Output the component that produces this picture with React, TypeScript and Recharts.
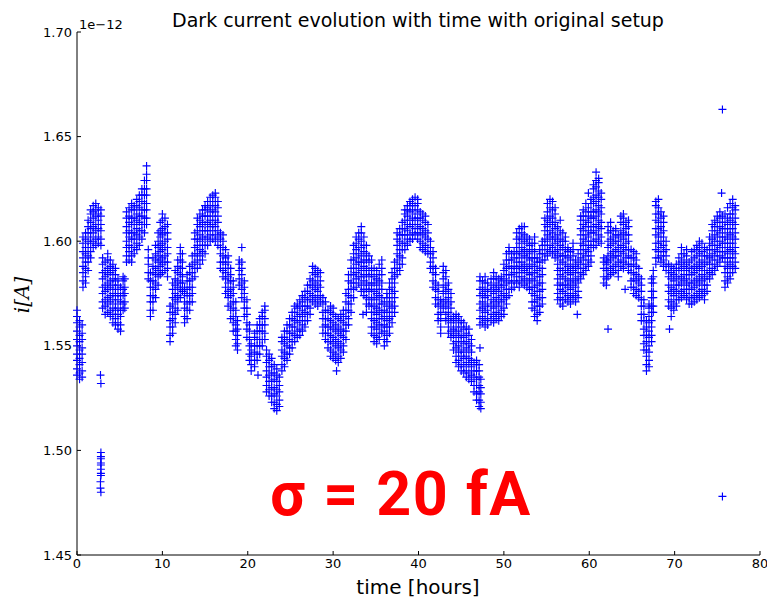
import { ScatterChart, Scatter, XAxis, YAxis } from 'recharts';

// rows: [time in hours, readings in fA ...]
const run0to10 = [
  [0.0, 1536, 1539, 1543, 1546, 1550, 1553, 1557, 1561, 1564, 1567],
  [0.3, 1534, 1537, 1541, 1544, 1548, 1552, 1555, 1559, 1562],
  [0.6, 1535, 1538, 1542, 1546, 1549, 1553, 1556, 1560],
  [0.7, 1578, 1581, 1585, 1588, 1592, 1595, 1599, 1602],
  [1.0, 1580, 1583, 1587, 1590, 1594, 1597, 1601, 1604],
  [1.3, 1586, 1590, 1593, 1597, 1600, 1604, 1607, 1610],
  [1.6, 1592, 1595, 1599, 1602, 1606, 1609, 1613, 1615],
  [1.9, 1597, 1600, 1604, 1607, 1611, 1614, 1617],
  [2.2, 1598, 1601, 1605, 1608, 1612, 1615, 1618],
  [2.5, 1599, 1602, 1606, 1610, 1613, 1616],
  [2.8, 1598, 1601, 1605, 1608, 1612, 1615],
  [3.0, 1568, 1571, 1575, 1578, 1582, 1585, 1589, 1592],
  [3.3, 1565, 1569, 1572, 1576, 1579, 1583, 1586, 1590],
  [3.6, 1566, 1570, 1573, 1577, 1580, 1584, 1587, 1591, 1594],
  [3.9, 1564, 1567, 1571, 1574, 1578, 1581, 1585, 1588, 1591],
  [4.2, 1561, 1565, 1568, 1572, 1575, 1579, 1582, 1586, 1589],
  [4.5, 1560, 1563, 1567, 1570, 1574, 1577, 1581, 1584, 1587],
  [4.8, 1558, 1561, 1565, 1568, 1572, 1575, 1579, 1582],
  [5.1, 1557, 1560, 1564, 1567, 1571, 1574, 1578],
  [5.4, 1567, 1570, 1574, 1577, 1581, 1583],
  [5.6, 1568, 1571, 1575, 1578, 1582],
  [5.8, 1590, 1593, 1597, 1600, 1604, 1607, 1611, 1614],
  [6.1, 1591, 1595, 1598, 1602, 1605, 1609, 1612, 1616],
  [6.4, 1590, 1593, 1597, 1601, 1604, 1608, 1611, 1615, 1618],
  [6.7, 1594, 1597, 1601, 1604, 1608, 1611, 1615, 1617],
  [7.0, 1596, 1599, 1603, 1606, 1610, 1613, 1617, 1620],
  [7.3, 1598, 1602, 1605, 1609, 1612, 1616, 1619, 1622],
  [7.6, 1601, 1605, 1608, 1612, 1615, 1619, 1622, 1625],
  [7.9, 1604, 1608, 1611, 1615, 1618, 1622, 1625, 1629],
  [8.15, 1608, 1611, 1615, 1618, 1622, 1625, 1629, 1632, 1636],
  [8.35, 1582, 1585, 1589, 1592, 1596],
  [8.6, 1564, 1567, 1571, 1574, 1578, 1581, 1585],
  [8.9, 1567, 1571, 1574, 1578, 1581, 1585, 1588, 1592],
  [9.2, 1573, 1577, 1580, 1584, 1587, 1591, 1594, 1598],
  [9.5, 1579, 1583, 1586, 1590, 1593, 1597, 1600, 1604],
  [9.75, 1584, 1588, 1591, 1595, 1598, 1602, 1605, 1609],
  [10.0, 1585, 1589, 1592, 1596, 1599, 1603, 1606, 1610, 1613],
  [10.3, 1586, 1590, 1593, 1597, 1600, 1604, 1607, 1611],
  [10.6, 1583, 1587, 1590, 1594, 1597, 1601, 1604, 1608],
];

const run10to20 = [
  [10.9, 1552, 1555, 1559, 1562, 1566, 1569],
  [11.2, 1556, 1559, 1563, 1566, 1570, 1573, 1577, 1580],
  [11.5, 1561, 1565, 1568, 1572, 1575, 1579, 1582, 1586],
  [11.8, 1567, 1571, 1574, 1578, 1581, 1585, 1588, 1591],
  [12.1, 1573, 1577, 1580, 1584, 1587, 1591, 1594, 1597],
  [12.35, 1576, 1580, 1583, 1587, 1590, 1594],
  [12.6, 1561, 1564, 1568, 1571, 1575, 1578],
  [12.9, 1563, 1567, 1570, 1574, 1577, 1581, 1584],
  [13.2, 1567, 1571, 1574, 1578, 1581, 1585, 1588],
  [13.5, 1571, 1575, 1578, 1582, 1585, 1589, 1593],
  [13.8, 1583, 1587, 1590, 1594, 1597, 1601, 1604],
  [14.1, 1587, 1591, 1594, 1598, 1601, 1605, 1608, 1611],
  [14.4, 1589, 1593, 1596, 1600, 1603, 1607, 1610, 1613],
  [14.7, 1591, 1595, 1598, 1602, 1605, 1609, 1612, 1615],
  [15.0, 1594, 1598, 1601, 1605, 1608, 1612, 1615, 1617],
  [15.3, 1598, 1602, 1605, 1609, 1612, 1616, 1619],
  [15.6, 1600, 1603, 1607, 1610, 1614, 1617, 1621],
  [15.9, 1601, 1605, 1608, 1612, 1615, 1619, 1622],
  [16.2, 1600, 1603, 1607, 1610, 1614, 1617, 1621, 1623],
  [16.5, 1598, 1602, 1605, 1609, 1612, 1616, 1619],
  [16.8, 1587, 1590, 1594, 1597, 1601, 1604],
  [17.1, 1583, 1586, 1590, 1593, 1597, 1600, 1603],
  [17.4, 1575, 1578, 1582, 1585, 1589, 1592, 1596],
  [17.7, 1569, 1573, 1576, 1580, 1583, 1587, 1590, 1593],
  [18.0, 1563, 1567, 1570, 1574, 1577, 1581, 1584, 1587],
  [18.3, 1557, 1561, 1564, 1568, 1571, 1575, 1578, 1581],
  [18.6, 1550, 1553, 1557, 1560, 1564, 1567, 1571],
  [18.8, 1548, 1551, 1555, 1558, 1562],
  [19.0, 1579, 1582, 1586, 1589, 1591],
  [19.3, 1573, 1577, 1580, 1584, 1587, 1590],
  [19.6, 1564, 1568, 1571, 1575, 1578, 1581],
  [19.9, 1554, 1558, 1561, 1565, 1568, 1572],
  [20.2, 1543, 1546, 1550, 1553, 1557, 1560],
  [20.4, 1538, 1541, 1545, 1548, 1551],
];

const run20to30 = [
  [20.8, 1540, 1543, 1547, 1550, 1554, 1556],
  [21.1, 1543, 1546, 1550, 1553, 1557, 1560],
  [21.4, 1546, 1550, 1553, 1557, 1560, 1563],
  [21.7, 1550, 1553, 1557, 1560, 1564, 1566],
  [22.0, 1553, 1556, 1560, 1563, 1567, 1569],
  [22.2, 1528, 1531, 1535, 1538, 1542, 1545, 1548],
  [22.5, 1526, 1529, 1533, 1536, 1540, 1543, 1546],
  [22.8, 1523, 1526, 1530, 1533, 1537, 1540, 1544],
  [23.1, 1520, 1523, 1527, 1530, 1534, 1537, 1541],
  [23.4, 1519, 1522, 1526, 1529, 1533, 1536, 1539],
  [23.7, 1521, 1524, 1528, 1531, 1535],
  [24.0, 1538, 1541, 1545, 1548, 1552, 1554],
  [24.3, 1540, 1544, 1547, 1551, 1554, 1557],
  [24.6, 1543, 1546, 1550, 1553, 1557, 1560],
  [24.9, 1546, 1549, 1553, 1556, 1560, 1563],
  [25.2, 1549, 1552, 1556, 1559, 1563, 1566],
  [25.5, 1552, 1555, 1559, 1562, 1566, 1569],
  [25.8, 1554, 1557, 1561, 1564, 1568, 1570],
  [26.1, 1555, 1558, 1562, 1565, 1569, 1572],
  [26.4, 1557, 1560, 1564, 1567, 1571, 1574],
  [26.7, 1559, 1562, 1566, 1569, 1573, 1576],
  [27.0, 1562, 1565, 1569, 1572, 1576, 1579],
  [27.3, 1565, 1568, 1572, 1575, 1579, 1582],
  [27.6, 1571, 1574, 1578, 1581, 1585, 1588],
  [27.9, 1570, 1573, 1577, 1580, 1584, 1587],
  [28.2, 1569, 1572, 1576, 1579, 1583, 1586],
  [28.5, 1571, 1574, 1578, 1581, 1585],
  [28.8, 1556, 1559, 1563, 1566, 1570, 1573],
  [29.1, 1553, 1556, 1560, 1563, 1567, 1571],
  [29.4, 1549, 1552, 1556, 1559, 1563, 1567],
  [29.7, 1545, 1548, 1552, 1555, 1559, 1562, 1566, 1569],
];

const run30to40 = [
  [30.0, 1544, 1547, 1551, 1554, 1558, 1561, 1565, 1568],
  [30.3, 1543, 1546, 1550, 1553, 1557, 1560, 1564],
  [30.6, 1542, 1545, 1549, 1552, 1556, 1559, 1563],
  [30.9, 1544, 1548, 1551, 1555, 1558, 1562, 1565],
  [31.2, 1547, 1550, 1554, 1557, 1561, 1564, 1567],
  [31.5, 1553, 1557, 1560, 1564, 1567, 1571, 1575],
  [31.8, 1560, 1563, 1567, 1570, 1574, 1577, 1581, 1584],
  [32.1, 1566, 1570, 1573, 1577, 1580, 1584, 1587, 1591],
  [32.4, 1573, 1577, 1580, 1584, 1587, 1591, 1594, 1598],
  [32.7, 1578, 1582, 1585, 1589, 1592, 1596, 1599, 1602],
  [33.0, 1580, 1583, 1587, 1590, 1594, 1597, 1601, 1604],
  [33.3, 1576, 1579, 1583, 1586, 1590, 1593, 1597, 1600, 1604, 1607],
  [33.6, 1574, 1577, 1581, 1584, 1588, 1591, 1595, 1598, 1602],
  [33.9, 1570, 1573, 1577, 1580, 1584, 1587, 1591, 1594, 1598],
  [34.2, 1569, 1572, 1576, 1579, 1583, 1586, 1590, 1593],
  [34.5, 1556, 1559, 1563, 1566, 1570, 1573, 1577, 1580, 1584, 1587, 1591],
  [34.8, 1552, 1555, 1559, 1562, 1566, 1569, 1573, 1576, 1580, 1583, 1587],
  [35.1, 1551, 1554, 1558, 1561, 1565, 1568, 1572, 1575, 1579, 1582, 1586],
  [35.4, 1553, 1556, 1560, 1563, 1567, 1570, 1574, 1577, 1581, 1584, 1589],
  [35.7, 1556, 1559, 1563, 1566, 1570, 1573, 1577, 1580, 1584, 1587, 1591],
  [36.0, 1550, 1553, 1557, 1560, 1564, 1567, 1571],
  [36.3, 1552, 1555, 1559, 1562, 1566, 1569, 1573, 1575],
  [36.6, 1556, 1559, 1563, 1566, 1570, 1573, 1577, 1580],
  [36.9, 1561, 1564, 1568, 1571, 1575, 1578, 1582, 1585],
  [37.2, 1566, 1569, 1573, 1576, 1580, 1583, 1587, 1590],
  [37.5, 1584, 1587, 1591, 1594, 1598, 1601, 1604],
  [37.8, 1586, 1589, 1593, 1596, 1600, 1603, 1606],
  [38.1, 1589, 1592, 1596, 1599, 1603, 1606, 1609],
  [38.4, 1596, 1599, 1603, 1606, 1610, 1613, 1615],
  [38.7, 1598, 1601, 1605, 1608, 1612, 1615, 1617],
  [39.0, 1600, 1603, 1607, 1610, 1614, 1617, 1619],
  [39.3, 1601, 1604, 1608, 1611, 1615, 1618, 1620],
  [39.6, 1603, 1606, 1610, 1613, 1617, 1621],
  [39.9, 1601, 1604, 1608, 1611, 1615, 1618, 1620],
];

const run40to50 = [
  [40.2, 1597, 1600, 1604, 1607, 1611, 1614],
  [40.5, 1596, 1599, 1603, 1606, 1610, 1613],
  [40.8, 1595, 1598, 1602, 1605, 1609, 1612],
  [41.1, 1594, 1597, 1601, 1604, 1608],
  [41.4, 1587, 1590, 1594, 1597, 1600],
  [41.7, 1578, 1581, 1585, 1588, 1592, 1595],
  [42.0, 1570, 1573, 1577, 1580, 1584, 1587],
  [42.3, 1562, 1565, 1569, 1572, 1576, 1579],
  [42.6, 1556, 1559, 1563, 1566, 1570, 1572],
  [42.9, 1568, 1571, 1575, 1578, 1582, 1585, 1588],
  [43.2, 1562, 1565, 1569, 1572, 1576, 1579, 1583, 1586],
  [43.5, 1556, 1559, 1563, 1566, 1570, 1573, 1577, 1580],
  [43.8, 1554, 1557, 1561, 1564, 1568, 1571, 1575],
  [44.1, 1548, 1551, 1555, 1558, 1562, 1564],
  [44.4, 1542, 1545, 1549, 1552, 1556, 1559, 1563, 1565],
  [44.7, 1540, 1543, 1547, 1550, 1554, 1557, 1561, 1564],
  [45.0, 1538, 1541, 1545, 1548, 1552, 1555, 1559, 1562],
  [45.3, 1537, 1540, 1544, 1547, 1551, 1554, 1558, 1561],
  [45.6, 1535, 1538, 1542, 1545, 1549, 1552, 1556, 1559],
  [45.9, 1534, 1537, 1541, 1544, 1548, 1551, 1555, 1558],
  [46.2, 1533, 1536, 1540, 1543, 1547, 1550, 1553],
  [46.5, 1528, 1531, 1535, 1538, 1542],
  [46.8, 1524, 1527, 1531, 1534, 1538, 1541, 1543],
  [47.1, 1521, 1524, 1528, 1531, 1535, 1538, 1541],
  [47.3, 1520, 1523, 1527, 1530, 1534],
  [47.2, 1560, 1563, 1567, 1570, 1574, 1577, 1581, 1583],
  [47.5, 1561, 1564, 1568, 1571, 1575, 1578, 1581],
  [47.8, 1559, 1562, 1566, 1569, 1573, 1576, 1580, 1583],
  [48.1, 1560, 1563, 1567, 1570, 1574, 1577, 1580],
  [48.5, 1562, 1565, 1569, 1572, 1576, 1579, 1582],
  [48.8, 1561, 1564, 1568, 1571, 1575, 1578, 1582, 1585],
  [49.1, 1563, 1566, 1570, 1573, 1577, 1580, 1583],
  [49.4, 1562, 1565, 1569, 1572, 1576, 1579, 1582],
  [49.7, 1564, 1567, 1571, 1574, 1578, 1581, 1583],
];

const run50to60 = [
  [50.0, 1565, 1568, 1572, 1575, 1579, 1582, 1586, 1589],
  [50.3, 1570, 1573, 1577, 1580, 1584, 1587, 1591, 1594],
  [50.6, 1574, 1577, 1581, 1584, 1588, 1591, 1595, 1597],
  [50.9, 1577, 1580, 1584, 1587, 1591, 1594],
  [51.2, 1578, 1581, 1585, 1588, 1592, 1595],
  [51.5, 1580, 1583, 1587, 1590, 1594, 1597, 1601, 1604],
  [51.8, 1578, 1581, 1585, 1588, 1592, 1595, 1599, 1602, 1606],
  [52.1, 1580, 1583, 1587, 1590, 1594, 1597, 1601, 1604, 1607],
  [52.4, 1579, 1582, 1586, 1589, 1593, 1596, 1600, 1603, 1607],
  [52.7, 1578, 1581, 1585, 1588, 1592, 1595, 1599, 1602],
  [53.0, 1577, 1580, 1584, 1587, 1591, 1594, 1598, 1601],
  [53.3, 1568, 1571, 1575, 1578, 1582, 1585, 1589, 1592, 1596, 1599],
  [53.6, 1564, 1567, 1571, 1574, 1578, 1581, 1585, 1588, 1592, 1595, 1599, 1602],
  [53.9, 1562, 1565, 1569, 1572, 1576, 1579, 1583, 1586, 1590, 1592],
  [54.2, 1566, 1569, 1573, 1576, 1580, 1583, 1587, 1590, 1594, 1596],
  [54.5, 1570, 1573, 1577, 1580, 1584, 1587, 1591, 1594, 1598, 1600],
  [54.8, 1591, 1594, 1598, 1601, 1605, 1608, 1611],
  [55.1, 1593, 1596, 1600, 1603, 1607, 1610, 1614, 1618],
  [55.4, 1595, 1598, 1602, 1605, 1609, 1612, 1616, 1620],
  [55.7, 1594, 1597, 1601, 1604, 1608, 1611, 1615, 1619],
  [56.0, 1592, 1595, 1599, 1602, 1606, 1609, 1613, 1616],
  [56.3, 1572, 1575, 1579, 1582, 1586, 1589, 1593, 1596, 1600, 1603, 1607],
  [56.6, 1570, 1573, 1577, 1580, 1584, 1587, 1591, 1594, 1598, 1601, 1605, 1610],
  [56.9, 1569, 1572, 1576, 1579, 1583, 1586, 1590, 1593, 1597, 1600, 1604],
  [57.2, 1572, 1575, 1579, 1582, 1586, 1589, 1593, 1596, 1600, 1602],
  [57.5, 1571, 1574, 1578, 1581, 1585, 1588, 1592, 1595, 1597],
  [57.8, 1570, 1573, 1577, 1580, 1584, 1587, 1591, 1595],
  [58.1, 1572, 1575, 1579, 1582, 1586, 1589, 1593, 1596, 1599],
  [58.4, 1571, 1574, 1578, 1581, 1585, 1588, 1591],
  [58.7, 1573, 1576, 1580, 1583, 1587, 1590, 1594],
  [59.0, 1582, 1585, 1589, 1592, 1596, 1599, 1603, 1606, 1610, 1612],
  [59.3, 1584, 1587, 1591, 1594, 1598, 1601, 1605, 1608, 1612, 1615],
  [59.6, 1586, 1589, 1593, 1596, 1600, 1603, 1607, 1610, 1614, 1618],
  [59.9, 1588, 1591, 1595, 1598, 1602, 1605, 1609, 1612, 1616, 1623],
];

const run60to70 = [
  [60.2, 1590, 1593, 1597, 1600, 1604, 1607, 1611, 1614, 1618, 1620],
  [60.5, 1597, 1600, 1604, 1607, 1611, 1614, 1618, 1621, 1625, 1627],
  [60.8, 1598, 1601, 1605, 1608, 1612, 1615, 1619, 1622, 1626, 1629, 1633],
  [61.1, 1600, 1603, 1607, 1610, 1614, 1617, 1621, 1624, 1628, 1630],
  [61.4, 1599, 1602, 1606, 1609, 1613, 1616, 1620, 1623],
  [61.7, 1580, 1583, 1587, 1590, 1592],
  [62.0, 1579, 1582, 1586, 1589, 1591],
  [62.2, 1583, 1586, 1590, 1593, 1597, 1600, 1604, 1607],
  [62.5, 1584, 1587, 1591, 1594, 1598, 1601, 1605, 1609],
  [62.8, 1585, 1588, 1592, 1595, 1599, 1602, 1605],
  [63.1, 1586, 1589, 1593, 1596, 1600, 1603, 1606],
  [63.4, 1583, 1586, 1590, 1593, 1597, 1600, 1603],
  [63.7, 1588, 1591, 1595, 1598, 1602, 1605, 1609, 1612],
  [64.0, 1587, 1590, 1594, 1597, 1601, 1604, 1608, 1611, 1613],
  [64.3, 1589, 1592, 1596, 1599, 1603, 1606, 1609],
  [64.6, 1586, 1589, 1593, 1596, 1600, 1603, 1607, 1610],
  [64.9, 1578, 1581, 1585, 1588, 1592, 1596],
  [65.2, 1575, 1578, 1582, 1585, 1589, 1592, 1595],
  [65.5, 1574, 1577, 1581, 1584, 1588, 1591, 1594],
  [65.8, 1573, 1576, 1580, 1583, 1587],
  [66.1, 1562, 1565, 1569, 1572, 1576, 1579, 1582],
  [66.4, 1548, 1551, 1555, 1558, 1562, 1565, 1569, 1572],
  [66.7, 1538, 1541, 1545, 1548, 1552, 1555, 1559, 1562],
  [67.0, 1540, 1543, 1547, 1550, 1554, 1557, 1561, 1564, 1568, 1570],
  [67.3, 1552, 1555, 1559, 1562, 1566, 1569, 1573, 1576, 1580, 1582],
  [67.5, 1566, 1569, 1573, 1576, 1580, 1583, 1586],
  [67.8, 1589, 1592, 1596, 1599, 1603, 1606, 1610, 1613, 1617, 1619],
  [68.1, 1592, 1595, 1599, 1602, 1606, 1609, 1613, 1616, 1620],
  [68.4, 1590, 1593, 1597, 1600, 1604, 1607, 1611, 1614],
  [68.7, 1588, 1591, 1595, 1598, 1602, 1605, 1609, 1612],
  [69.0, 1586, 1589, 1593, 1596, 1600],
  [69.3, 1569, 1572, 1576, 1579, 1583, 1586, 1589],
  [69.6, 1568, 1571, 1575, 1578, 1582, 1585, 1588],
  [69.9, 1567, 1570, 1574, 1577, 1581, 1584, 1587],
  [70.2, 1569, 1572, 1576, 1579, 1583, 1586, 1589],
];

const run70to77 = [
  [70.5, 1572, 1575, 1579, 1582, 1586, 1589, 1592],
  [70.8, 1573, 1576, 1580, 1583, 1587, 1590, 1594, 1597],
  [71.1, 1574, 1577, 1581, 1584, 1588, 1591, 1594],
  [71.4, 1572, 1575, 1579, 1582, 1586, 1589, 1593, 1596],
  [71.7, 1570, 1573, 1577, 1580, 1584, 1587, 1590],
  [72.0, 1570, 1573, 1577, 1580, 1584, 1587, 1591, 1595],
  [72.3, 1571, 1574, 1578, 1581, 1585, 1588, 1592, 1596],
  [72.6, 1572, 1575, 1579, 1582, 1586, 1589, 1593, 1596, 1598],
  [72.9, 1573, 1576, 1580, 1583, 1587, 1590, 1594, 1597, 1600],
  [73.2, 1574, 1577, 1581, 1584, 1588, 1591, 1595, 1599],
  [73.5, 1572, 1575, 1579, 1582, 1586, 1589, 1593, 1597],
  [73.8, 1576, 1579, 1583, 1586, 1590, 1593, 1596],
  [74.1, 1582, 1585, 1589, 1592, 1596, 1599, 1602],
  [74.4, 1584, 1587, 1591, 1594, 1598, 1601, 1605, 1608],
  [74.7, 1586, 1589, 1593, 1596, 1600, 1603, 1607, 1610],
  [75.0, 1588, 1591, 1595, 1598, 1602, 1605, 1609, 1612],
  [75.3, 1590, 1593, 1597, 1600, 1604, 1607, 1611, 1614],
  [75.6, 1592, 1595, 1599, 1602, 1606, 1609, 1612],
  [75.9, 1578, 1581, 1585, 1588, 1592, 1595, 1599, 1602, 1606, 1609, 1613],
  [76.2, 1580, 1583, 1587, 1590, 1594, 1597, 1601, 1604, 1608, 1611, 1616],
  [76.5, 1582, 1585, 1589, 1592, 1596, 1599, 1603, 1606, 1610, 1613, 1618],
  [76.8, 1585, 1588, 1592, 1595, 1599, 1602, 1606, 1609, 1613, 1616, 1620],
  [77.1, 1587, 1590, 1594, 1597, 1601, 1604, 1608, 1611, 1615, 1617],
];

// stray readings and the low burst near 3 h
const strays = [
  [2.8, 1499], [2.8, 1497], [2.8, 1496], [2.8, 1494], [2.8, 1493],
  [2.8, 1491], [2.8, 1489], [2.8, 1488], [2.75, 1485], [2.75, 1482], [2.8, 1480],
  [2.75, 1536], [2.8, 1532],
  [19.3, 1597], [21.2, 1536], [30.4, 1538], [33.5, 1565], [33.9, 1566],
  [47.2, 1549], [58.6, 1565], [62.2, 1558], [64.2, 1577],
  [69.4, 1558], [69.6, 1564],
  [75.5, 1623], [75.6, 1663], [75.6, 1478],
];

const xTicks = [0, 10, 20, 30, 40, 50, 60, 70, 80];
const yTicks = [1.45, 1.5, 1.55, 1.6, 1.65, 1.7];

const runs = [run0to10, run10to20, run20to30, run30to40, run40to50, run50to60, run60to70, run70to77];

const points = runs
  .flatMap((run) => run.flatMap(([t, ...vals]) => vals.map((v) => ({ t, i: v / 1000 }))))
  .concat(strays.map(([t, v]) => ({ t, i: v / 1000 })));

const PlusMarker = ({ cx, cy }: any) => (
  <path
    d={`M${cx - 4},${cy}H${cx + 4}M${cx},${cy - 4}V${cy + 4}`}
    stroke="#0000ff"
    strokeWidth={1.15}
    fill="none"
  />
);

const tickFont = { fontSize: 13, fill: '#000', fontFamily: 'DejaVu Sans' };
const black = { stroke: '#000' };

export default function App() {
  return (
    <div style={{ position: 'relative', width: 767, height: 599, background: '#fff' }}>
      <style>{'body{margin:0}'}</style>
      <ScatterChart width={767} height={599} margin={{ top: 32, right: 7, bottom: 0, left: 0 }}>
        <XAxis
          dataKey="t"
          type="number"
          domain={[0, 80]}
          ticks={xTicks}
          interval={0}
          height={44}
          tickSize={-4}
          tickMargin={8}
          axisLine={black}
          tickLine={black}
          tick={tickFont}
        />
        <XAxis
          xAxisId="top"
          orientation="top"
          type="number"
          domain={[0, 80]}
          ticks={xTicks}
          interval={0}
          height={0}
          tickSize={-4}
          axisLine={black}
          tickLine={black}
          tickFormatter={() => ''}
        />
        <YAxis
          dataKey="i"
          type="number"
          domain={[1.45, 1.7]}
          ticks={yTicks}
          interval={0}
          width={77}
          tickSize={-4}
          tickMargin={9}
          axisLine={black}
          tickLine={black}
          tick={tickFont}
          tickFormatter={(v: number) => v.toFixed(2)}
        />
        <YAxis
          yAxisId="right"
          orientation="right"
          type="number"
          domain={[1.45, 1.7]}
          ticks={yTicks}
          interval={0}
          width={0}
          tickSize={-4}
          axisLine={black}
          tickLine={black}
          tickFormatter={() => ''}
        />
        <Scatter data={points} shape={PlusMarker} isAnimationActive={false} />
      </ScatterChart>
      <svg
        width={767}
        height={599}
        style={{ position: 'absolute', left: 0, top: 0, pointerEvents: 'none' }}
      >
        <text x={418} y={27} textAnchor="middle" fontSize={19} fontFamily="DejaVu Sans" fill="#000">
          Dark current evolution with time with original setup
        </text>
        <text x={79} y={29} fontSize={13} fontFamily="DejaVu Sans" fill="#000">
          1e−12
        </text>
        <text x={418} y={594} textAnchor="middle" fontSize={20} fontFamily="DejaVu Sans" fill="#000">
          time [hours]
        </text>
        <text
          x={0}
          y={0}
          transform="translate(29,295) rotate(-90)"
          textAnchor="middle"
          fontSize={20}
          fontStyle="italic"
          fontFamily="DejaVu Serif"
          fill="#000"
        >
          i[A]
        </text>
        <text
          x={401}
          y={515}
          textAnchor="middle"
          fontSize={61}
          fontWeight={700}
          letterSpacing={1.5}
          fontFamily="Roboto"
          fill="#ff0000"
        >
          σ = 20 fA
        </text>
      </svg>
    </div>
  );
}
